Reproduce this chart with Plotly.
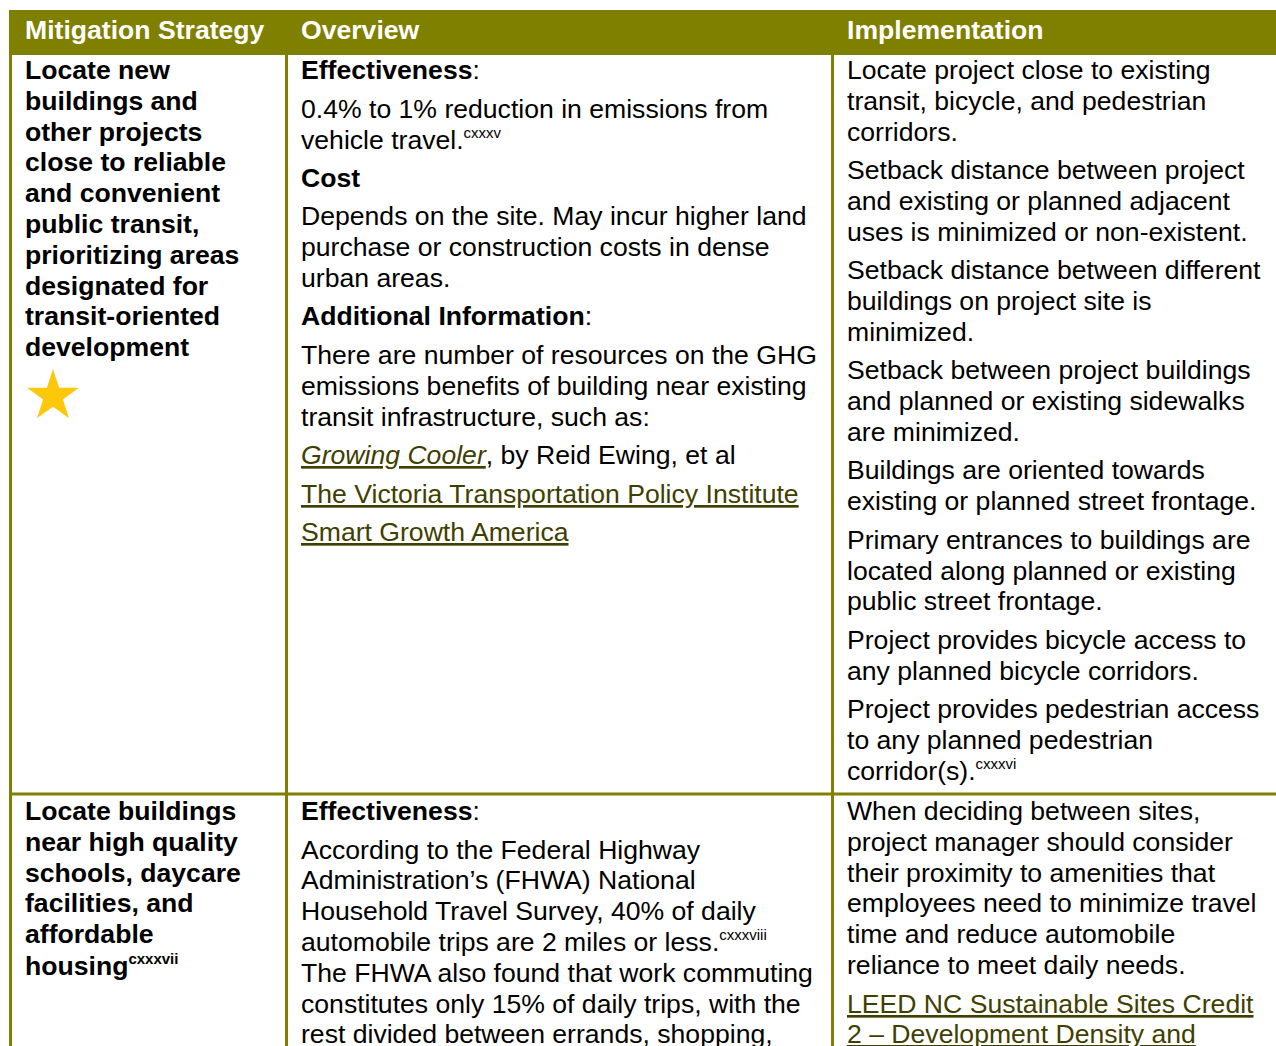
import plotly.graph_objects as go

# ---------------- data ----------------
headers = ["Mitigation Strategy", "Overview", "Implementation"]

strategy_1 = ["Locate new", "buildings and", "other projects", "close to reliable",
              "and convenient", "public transit,", "prioritizing areas",
              "designated for", "transit-oriented", "development"]
strategy_2 = ["Locate buildings", "near high quality", "schools, daycare",
              "facilities, and", "affordable", "housing<sup>cxxxvii</sup>"]

LINK = "#3f3f00"

overview_1 = [
    ["<b>Effectiveness</b>:"],
    ["0.4% to 1% reduction in emissions from", "vehicle travel.<sup>cxxxv</sup>"],
    ["<b>Cost</b>"],
    ["Depends on the site. May incur higher land",
     "purchase or construction costs in dense", "urban areas."],
    ["<b>Additional Information</b>:"],
    ["There are number of resources on the GHG",
     "emissions benefits of building near existing",
     "transit infrastructure, such as:"],
    [f"<span style='color:{LINK}'><i><u>Growing Cooler</u></i></span>, by Reid Ewing, et al"],
    [f"<span style='color:{LINK}'><u>The Victoria Transportation Policy Institute</u></span>"],
    [f"<span style='color:{LINK}'><u>Smart Growth America</u></span>"],
]
overview_2 = [
    ["<b>Effectiveness</b>:"],
    ["According to the Federal Highway",
     "Administration\u2019s (FHWA) National",
     "Household Travel Survey, 40% of daily",
     "automobile trips are 2 miles or less.<sup>cxxxviii</sup>",
     "The FHWA also found that work commuting",
     "constitutes only 15% of daily trips, with the",
     "rest divided between errands, shopping,"],
]

implementation_1 = [
    ["Locate project close to existing", "transit, bicycle, and pedestrian", "corridors."],
    ["Setback distance between project", "and existing or planned adjacent",
     "uses is minimized or non-existent."],
    ["Setback distance between different", "buildings on project site is", "minimized."],
    ["Setback between project buildings", "and planned or existing sidewalks",
     "are minimized."],
    ["Buildings are oriented towards", "existing or planned street frontage."],
    ["Primary entrances to buildings are", "located along planned or existing",
     "public street frontage."],
    ["Project provides bicycle access to", "any planned bicycle corridors."],
    ["Project provides pedestrian access", "to any planned pedestrian",
     "corridor(s).<sup>cxxxvi</sup>"],
]
implementation_2 = [
    ["When deciding between sites,", "project manager should consider",
     "their proximity to amenities that", "employees need to minimize travel",
     "time and reduce automobile", "reliance to meet daily needs."],
    [f"<span style='color:{LINK}'><u>LEED NC Sustainable Sites Credit</u></span>",
     f"<span style='color:{LINK}'><u>2 \u2013 Development Density and</u></span>"],
]

# ---------------- layout constants ----------------
W, H = 1276, 1046
OLIVE = "#808000"
FONT = "Liberation Sans, Arial, sans-serif"
FS = 26.6
PITCH = 30.8
PARA = 38.5
col_left = [10, 286, 832]
text_x = [23, 299, 845]
header_top, header_bot = 10, 55
row_sep = 794
row_start = [70, 811]

fig = go.Figure()
annotations = []
shapes = []


def add_line(x, y, txt, bold=False, color="black"):
    t = txt.replace("<sup>", "<sup><span style='font-size:15px'>").replace("</sup>", "</span></sup>")
    if bold:
        t = "<b>" + t + "</b>"
    annotations.append(dict(x=x, y=y, xref="x", yref="y", text=t, showarrow=False,
                            xanchor="left", yanchor="middle", align="left",
                            font=dict(family=FONT, size=FS, color=color)))


def add_paragraphs(x, y0, paras):
    y = y0
    for pi, para in enumerate(paras):
        if pi > 0:
            y += PARA
        for li, line in enumerate(para):
            if li > 0:
                y += PITCH
            add_line(x, y, line)
    return y


# header band
shapes.append(dict(type="rect", xref="x", yref="y", x0=col_left[0] - 1, x1=W + 5,
                   y0=header_top, y1=header_bot, fillcolor=OLIVE, line=dict(width=0),
                   layer="below"))
for hx, h in zip(text_x, headers):
    add_line(hx, 29.5, h, bold=True, color="white")

# borders
for cx in col_left:
    shapes.append(dict(type="line", xref="x", yref="y", x0=cx + 0.5, x1=cx + 0.5,
                       y0=header_bot, y1=H + 5, line=dict(color=OLIVE, width=3)))
shapes.append(dict(type="line", xref="x", yref="y", x0=col_left[0], x1=W + 5,
                   y0=row_sep, y1=row_sep, line=dict(color=OLIVE, width=3)))

# column 1
for i, s in enumerate(strategy_1):
    add_line(text_x[0], row_start[0] + i * PITCH, s, bold=True)
for i, s in enumerate(strategy_2):
    add_line(text_x[0], row_start[1] + i * PITCH, s, bold=True)

# star rating marker below strategy 1
star_y = row_start[0] + (len(strategy_1) - 1) * PITCH + 49
fig.add_trace(go.Scatter(x=[53], y=[star_y], mode="markers",
                         marker=dict(symbol="star", size=39, color="#fdc80c",
                                     line=dict(width=0)),
                         hoverinfo="skip", showlegend=False))

# columns 2 & 3
add_paragraphs(text_x[1], row_start[0], overview_1)
add_paragraphs(text_x[1], row_start[1], overview_2)
add_paragraphs(text_x[2], row_start[0], implementation_1)
add_paragraphs(text_x[2], row_start[1], implementation_2)

fig.update_layout(
    width=W, height=H, margin=dict(l=0, r=0, t=0, b=0),
    paper_bgcolor="white", plot_bgcolor="white",
    xaxis=dict(range=[0, W], visible=False, fixedrange=True),
    yaxis=dict(range=[H, 0], visible=False, fixedrange=True),
    annotations=annotations, shapes=shapes, showlegend=False,
)

fig.write_html("out.html",
               config={"displayModeBar": False, "staticPlot": True},
               post_script="document.body.style.margin='0';"
                           "document.body.style.overflow='hidden';")
